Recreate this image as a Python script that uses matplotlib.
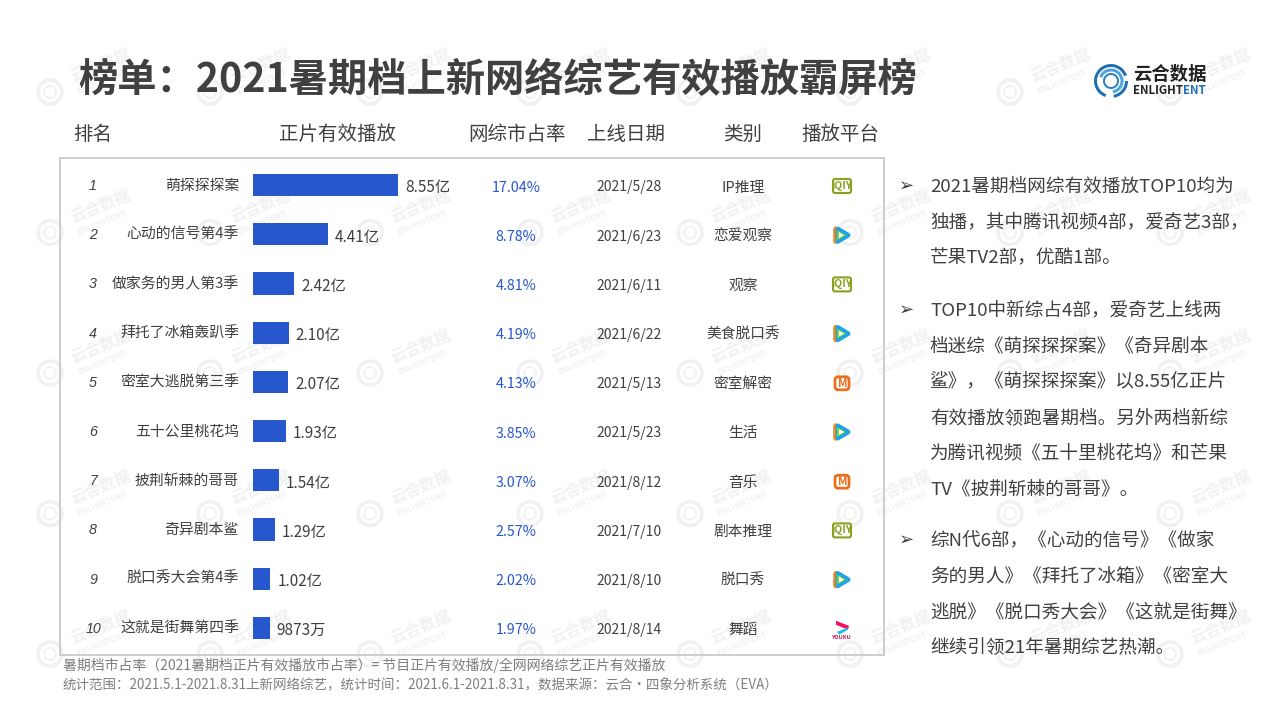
import matplotlib
matplotlib.use("Agg")
import matplotlib.pyplot as plt
from matplotlib.patches import Circle, Wedge, Rectangle, FancyBboxPatch, Polygon

plt.rcParams['font.family'] = ['Noto Sans CJK SC', 'DejaVu Sans']

ranks = ["1", "2", "3", "4", "5", "6", "7", "8", "9", "10"]
names = ["萌探探探案", "心动的信号第4季", "做家务的男人第3季", "拜托了冰箱轰趴季", "密室大逃脱第三季",
         "五十公里桃花坞", "披荆斩棘的哥哥", "奇异剧本鲨", "脱口秀大会第4季", "这就是街舞第四季"]
plays = [8.55, 4.41, 2.42, 2.10, 2.07, 1.93, 1.54, 1.29, 1.02, 0.9873]
play_labels = ["8.55亿", "4.41亿", "2.42亿", "2.10亿", "2.07亿", "1.93亿", "1.54亿", "1.29亿", "1.02亿", "9873万"]
shares = ["17.04%", "8.78%", "4.81%", "4.19%", "4.13%", "3.85%", "3.07%", "2.57%", "2.02%", "1.97%"]
dates = ["2021/5/28", "2021/6/23", "2021/6/11", "2021/6/22", "2021/5/13",
         "2021/5/23", "2021/8/12", "2021/7/10", "2021/8/10", "2021/8/14"]
genres = ["IP推理", "恋爱观察", "观察", "美食脱口秀", "密室解密", "生活", "音乐", "剧本推理", "脱口秀", "舞蹈"]
platforms = ["iqiyi", "tencent", "iqiyi", "tencent", "mango", "tencent", "mango", "iqiyi", "tencent", "youku"]
headers = ["排名", "正片有效播放", "网综市占率", "上线日期", "类别", "播放平台"]
title = "榜单：2021暑期档上新网络综艺有效播放霸屏榜"
notes = [
    ["2021暑期档网综有效播放TOP10均为", "独播，其中腾讯视频4部，爱奇艺3部，", "芒果TV2部，优酷1部。"],
    ["TOP10中新综占4部，爱奇艺上线两", "档迷综《萌探探探案》《奇异剧本", "鲨》，《萌探探探案》以8.55亿正片",
     "有效播放领跑暑期档。另外两档新综", "为腾讯视频《五十里桃花坞》和芒果", "TV《披荆斩棘的哥哥》。"],
    ["综N代6部，《心动的信号》《做家", "务的男人》《拜托了冰箱》《密室大", "逃脱》《脱口秀大会》《这就是街舞》",
     "继续引领21年暑期综艺热潮。"],
]
footnotes = ["暑期档市占率（2021暑期档正片有效播放市占率）= 节目正片有效播放/全网网络综艺正片有效播放",
             "统计范围：2021.5.1-2021.8.31上新网络综艺，统计时间：2021.6.1-2021.8.31，数据来源：云合·四象分析系统（EVA）"]

W, H = 1279, 719
fig = plt.figure(figsize=(W / 100, H / 100), dpi=100, facecolor="white")
bg = fig.add_axes([0, 0, 1, 1])
bg.set_xlim(0, W); bg.set_ylim(H, 0); bg.axis("off")

# watermark grid
WM = "#f1f1f1"
for cx in [50 + 160 * k for k in range(8)]:
    for cy in [92 + 140.5 * j for j in range(5)]:
        bg.add_patch(Circle((cx, cy), 12, fill=False, ec=WM, lw=2.5, zorder=1))
        bg.add_patch(Circle((cx, cy), 6, fill=False, ec=WM, lw=1.2, zorder=1))
        bg.text(cx + 50, cy - 27, "云合数据", fontsize=11.5, fontweight="bold", color=WM, rotation=22,
                ha="center", va="center", rotation_mode="anchor", zorder=1)
        bg.text(cx + 52, cy - 10, "ENLIGHTENT", fontsize=6, fontweight="bold", color=WM, rotation=22,
                ha="center", va="center", rotation_mode="anchor", zorder=1)

# frame
bg.add_patch(Rectangle((60, 158), 824, 497, fill=False, ec="#cdcdcd", lw=1.4, zorder=2))

# title
TXT = "#404040"
bg.text(78, 81, title, fontsize=28.3, fontweight="bold", color=TXT, ha="left", va="center", zorder=5)

# brand logo
for r, w, c, a1, a2 in [(17, 3, "#1f6fb5", 110, 340), (17, 3, "#1f6fb5", 0, 80), (12.5, 3, "#4ea3dc", 200, 80),
                        (8, 2, "#2d7fc1", 0, 360)]:
    bg.add_patch(Wedge((1111, 81), r, a1, a2, width=w, fc=c, ec="none", zorder=5))
bg.text(1133, 74, "云合数据", fontsize=13.2, fontweight="bold", color="#222222", ha="left", va="center", zorder=5)
bg.text(1133, 91, "ENLIGHT", fontsize=8.3, fontweight="bold", color="#222222", ha="left", va="center", zorder=5)
bg.text(1206, 91, "ENT", fontsize=8.3, fontweight="bold", color="#1f6fb5", ha="right", va="center", zorder=5)

# column headers
HX = [93, 338, 517, 626, 743, 840]
for x, h in zip(HX, headers):
    bg.text(x, 134, h, fontsize=14, color=TXT, ha="center", va="center", zorder=5)

# bars: axes spans pixel range x 253..883, y 160..653
X0, X1, Y0, Y1 = 253, 883, 160.5, 652.5
ax = fig.add_axes([X0 / W, 1 - Y1 / H, (X1 - X0) / W, (Y1 - Y0) / H])
ax.patch.set_alpha(0); ax.axis("off")
ax.set_xlim(0, (X1 - X0) / (145 / 8.55))
ax.set_ylim(9.5, -0.5)
pos = list(range(len(plays)))
ax.barh(pos, plays, height=0.45, color="#2757cd", zorder=4)
for p, v, lab in zip(pos, plays, play_labels):
    ax.annotate(lab, (v, p), xytext=(5, -2), textcoords="offset points", fontsize=11, color=TXT,
                ha="left", va="center", zorder=5)

# table columns
ROW0, STEP = 185, 49.2
def tencent(x, y):
    kw = dict(closed=True, joinstyle="round")
    bg.add_patch(Polygon([(x - 6, y - 6), (x - 6, y + 6), (x - 3, y)], fc="#f08a24", ec="#f08a24", lw=4, zorder=5, **kw))
    bg.add_patch(Polygon([(x - 4, y - 6), (x + 6, y), (x - 4, y + 6)], fc="#1fa3e8", ec="#1fa3e8", lw=3.5, zorder=6, **kw))
    bg.add_patch(Polygon([(x - 5, y - 5), (x + 4, y), (x - 5, y + 5)], fc="#7fd12f", ec="none", zorder=7, **kw))
    bg.add_patch(Polygon([(x - 3, y - 3), (x + 2, y), (x - 3, y + 3)], fc="white", ec="none", zorder=8, **kw))
def iqiyi(x, y):
    bg.add_patch(FancyBboxPatch((x - 9, y - 7), 18, 14, boxstyle="round,pad=0,rounding_size=2", fc="white", ec="#8aa01f", lw=1.5, zorder=5))
    bg.text(x, y, "iQIY", fontsize=7.5, fontweight="bold", color="#8aa01f", ha="center", va="center", zorder=6)
def mango(x, y):
    bg.add_patch(FancyBboxPatch((x - 7, y - 6), 14, 13, boxstyle="round,pad=0,rounding_size=3", fc="white", ec="#e8701e", lw=2, zorder=5))
    bg.text(x + 1, y + 0.5, "M", fontsize=8, fontweight="bold", color="#e8701e", ha="center", va="center", zorder=6)
def youku(x, y):
    bg.add_patch(Polygon([(x - 6, y - 8), (x + 7, y - 3), (x + 6, y + 1), (x - 6, y - 4)], closed=True, fc="#f5116a", ec="none", zorder=5))
    bg.add_patch(Polygon([(x - 5, y + 3), (x + 5, y - 1), (x + 6, y + 1), (x - 3, y + 6)], closed=True, fc="#1ec2f0", ec="none", zorder=5))
    bg.text(x, y + 9, "YOUKU", fontsize=4, fontweight="bold", color="#c2185b", ha="center", va="center", zorder=6)
ICON = {"iqiyi": iqiyi, "tencent": tencent, "mango": mango, "youku": youku}

for i in range(len(ranks)):
    y = ROW0 + STEP * i
    bg.text(93, y + 1, ranks[i], fontsize=10.3, family="Liberation Sans", style="italic", color=TXT, ha="center", va="center", zorder=5)
    bg.text(239, y + 0.5, names[i], fontsize=10.7, color=TXT, ha="right", va="center", zorder=5)
    bg.text(516, y + 2.5, shares[i], fontsize=10.3, color="#2757cd", ha="center", va="center", zorder=5)
    bg.text(629, y + 2.5, dates[i], fontsize=10, color=TXT, ha="center", va="center", zorder=5)
    bg.text(743, y + 2.5, genres[i], fontsize=10.6, color=TXT, ha="center", va="center", zorder=5)
    ICON[platforms[i]](842, y + 1)

# right notes
NOTE_Y = [186.5, 310.5, 540.5]
for start, para in zip(NOTE_Y, notes):
    bg.text(907, start - 1, "➢", fontsize=13, family="DejaVu Sans", color=TXT, ha="center", va="center", zorder=5)
    for k, line in enumerate(para):
        bg.text(930, start + 35.8 * k, line, fontsize=13.4, color=TXT, ha="left", va="center", zorder=5)

# footnotes
bg.text(63, 665, footnotes[0], fontsize=10, color="#7f7f7f", ha="left", va="center", zorder=5)
bg.text(63, 685, footnotes[1], fontsize=9.7, color="#7f7f7f", ha="left", va="center", zorder=5)

fig.savefig("out.png", dpi=100, facecolor="white")
